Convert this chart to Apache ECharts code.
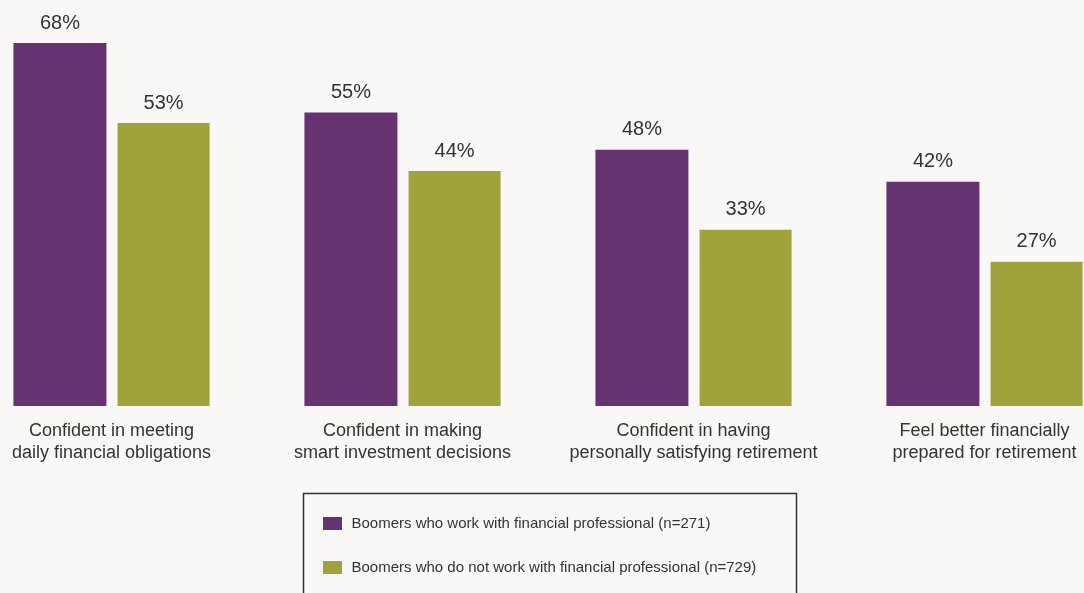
<!DOCTYPE html>
<html><head><meta charset="utf-8">
<script src="https://cdn.jsdelivr.net/npm/echarts@6/dist/echarts.min.js"></script>
<style>html,body{margin:0;padding:0;background:#f9f8f6}#c{width:1084px;height:593px}</style>
</head><body><div id="c"></div>
<script>
const categories = ["Confident in meeting\ndaily financial obligations","Confident in making\nsmart investment decisions","Confident in having\npersonally satisfying retirement","Feel better financially\nprepared for retirement"];
const seriesNames = ["Boomers who work with financial professional (n=271)","Boomers who do not work with financial professional (n=729)"];
const withPro = [68,55,48,42];
const withoutPro = [53,44,33,27];
const chart = echarts.init(document.getElementById('c'));
const font = '"Liberation Sans", Arial, sans-serif';
chart.setOption({
  backgroundColor:'#f9f8f6',
  animation:false,
  textStyle:{fontFamily:font},
  grid:{left:111.5,right:99.5,top:43,bottom:187,containLabel:false},
  xAxis:{type:'category',data:categories,boundaryGap:false,
    axisLine:{show:false},axisTick:{show:false},
    axisLabel:{interval:0,color:'#333',fontSize:18,lineHeight:22,margin:14,fontFamily:font}},
  yAxis:{type:'value',min:0,max:68,show:false,splitLine:{show:false}},
  legend:{orient:'vertical',left:317,top:511,itemWidth:20,itemHeight:14,itemGap:29,
    icon:'rect',
    itemStyle:{borderColor:'#ffffff',borderWidth:1},
    textStyle:{color:'#333',fontSize:15,padding:[0,0,0,4],fontFamily:font},
    data:seriesNames},
  graphic:[{type:'rect',shape:{x:303.5,y:493.5,width:493,height:110},
    style:{fill:'none',stroke:'#333',lineWidth:1.5},z:-1}],
  series:[
    {name:seriesNames[0],type:'bar',data:withPro,barWidth:93,barGap:'12%',
      itemStyle:{color:'#663272'},
      label:{show:true,position:'top',distance:10,formatter:'{c}%',color:'#333',fontSize:20,fontFamily:font}},
    {name:seriesNames[1],type:'bar',data:withoutPro,barWidth:92,barGap:'12%',
      itemStyle:{color:'#a0a23c'},
      label:{show:true,position:'top',distance:10,formatter:'{c}%',color:'#333',fontSize:20,fontFamily:font}}
  ]
});
</script></body></html>
